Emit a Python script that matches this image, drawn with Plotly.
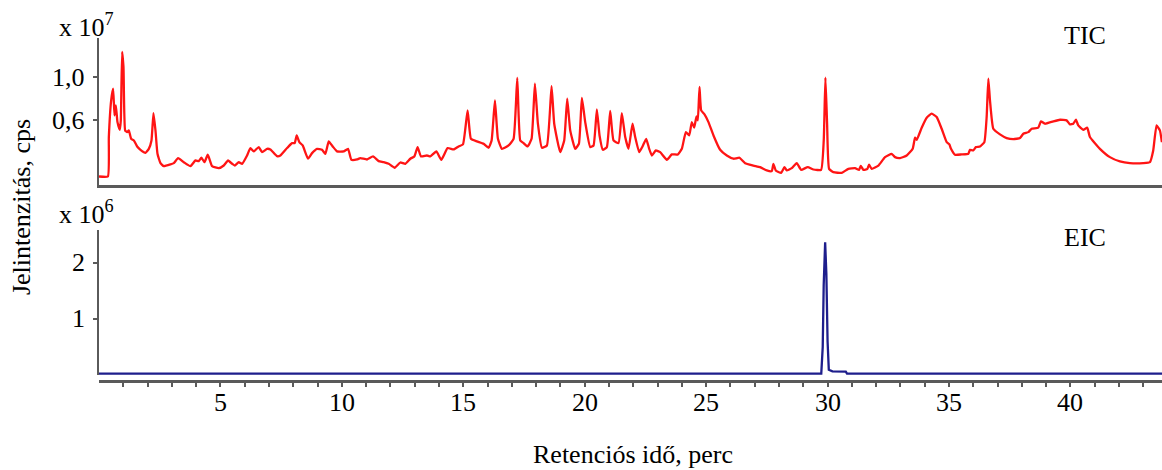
import plotly.graph_objects as go

# TIC chromatogram (retention time in min, intensity in units of 1e7 cps)
tic_t = [0.0, 0.364, 0.405, 0.501, 0.583, 0.638, 0.693, 0.761, 0.857, 0.898, 0.953, 1.008,
         1.077, 1.159, 1.228, 1.324, 1.434, 1.571, 1.708, 1.914, 2.051, 2.161, 2.243, 2.325,
         2.408, 2.531, 2.668, 2.942, 3.080, 3.258, 3.491, 3.766, 3.971, 4.108, 4.218, 4.342,
         4.479, 4.657, 4.932, 5.137, 5.315, 5.480, 5.590, 5.755, 5.892, 6.097, 6.234, 6.372,
         6.577, 6.715, 6.920, 7.058, 7.332, 7.469, 7.744, 7.949, 8.059, 8.141, 8.251, 8.388,
         8.608, 8.772, 8.978, 9.184, 9.321, 9.458, 9.623, 9.801, 10.076, 10.254, 10.391, 10.624,
         10.761, 11.035, 11.282, 11.515, 11.721, 11.927, 12.174, 12.407, 12.613, 12.819, 12.983,
         13.120, 13.258, 13.504, 13.642, 13.889, 14.094, 14.355, 14.602, 14.808, 14.986, 15.178,
         15.315, 15.562, 15.837, 16.042, 16.166, 16.303, 16.426, 16.591, 16.865, 17.071, 17.222,
         17.345, 17.482, 17.647, 17.812, 17.949, 18.072, 18.237, 18.443, 18.635, 18.744, 18.991,
         19.156, 19.279, 19.403, 19.609, 19.760, 19.883, 20.020, 20.226, 20.363, 20.500, 20.610,
         20.747, 20.912, 21.049, 21.186, 21.392, 21.529, 21.667, 21.804, 21.969, 22.078, 22.243,
         22.380, 22.531, 22.655, 22.764, 22.929, 23.107, 23.382, 23.587, 23.834, 23.999, 24.164,
         24.301, 24.410, 24.507, 24.602, 24.657, 24.726, 24.795, 24.932, 25.096, 25.302, 25.576,
         25.851, 26.125, 26.372, 26.605, 26.948, 27.223, 27.497, 27.703, 27.771, 27.867, 28.087,
         28.224, 28.320, 28.526, 28.731, 28.910, 29.184, 29.417, 29.733, 29.842, 29.911, 29.980,
         30.062, 30.240, 30.583, 30.857, 31.132, 31.297, 31.365, 31.475, 31.640, 31.708, 31.818,
         32.092, 32.366, 32.641, 32.778, 32.984, 33.258, 33.505, 33.601, 33.669, 33.875, 34.081,
         34.287, 34.492, 34.698, 34.904, 35.014, 35.082, 35.247, 35.521, 35.796, 35.864, 36.001,
         36.111, 36.276, 36.454, 36.550, 36.619, 36.687, 36.824, 37.099, 37.373, 37.648, 37.922,
         38.059, 38.265, 38.402, 38.676, 38.786, 38.951, 39.294, 39.568, 39.842, 39.979, 40.117,
         40.226, 40.322, 40.528, 40.693, 40.802, 41.214, 41.625, 42.037, 42.448, 42.997, 43.272,
         43.409, 43.546, 43.683, 43.765]
tic_v = [0.079, 0.079, 0.445, 0.786, 0.894, 0.646, 0.740, 0.584, 0.513, 0.600, 1.236, 1.096,
         0.507, 0.491, 0.507, 0.429, 0.414, 0.358, 0.327, 0.299, 0.336, 0.414, 0.668, 0.507,
         0.290, 0.203, 0.175, 0.191, 0.203, 0.250, 0.212, 0.175, 0.228, 0.222, 0.253, 0.212,
         0.281, 0.175, 0.157, 0.181, 0.228, 0.197, 0.181, 0.212, 0.197, 0.274, 0.343, 0.312,
         0.352, 0.305, 0.336, 0.330, 0.268, 0.274, 0.343, 0.389, 0.389, 0.460, 0.398, 0.367,
         0.244, 0.296, 0.336, 0.327, 0.290, 0.405, 0.358, 0.312, 0.312, 0.336, 0.234, 0.237,
         0.250, 0.237, 0.265, 0.222, 0.212, 0.197, 0.160, 0.209, 0.197, 0.244, 0.265,
         0.352, 0.265, 0.274, 0.265, 0.312, 0.234, 0.343, 0.330, 0.358, 0.377, 0.693,
         0.429, 0.405, 0.383, 0.346, 0.414, 0.786, 0.429, 0.336, 0.367, 0.429, 0.994,
         0.414, 0.389, 0.358, 0.429, 0.941, 0.569, 0.346, 0.367, 0.919, 0.569, 0.305,
         0.414, 0.802, 0.507, 0.336, 0.383, 0.808, 0.584, 0.352, 0.367, 0.702, 0.460,
         0.327, 0.352, 0.687, 0.414, 0.389, 0.668, 0.445, 0.336, 0.569, 0.445, 0.305,
         0.358, 0.429, 0.336, 0.274, 0.321, 0.305, 0.234, 0.284, 0.284, 0.336, 0.491,
         0.460, 0.584, 0.532, 0.637, 0.600, 0.910, 0.693, 0.656, 0.584, 0.460, 0.327,
         0.274, 0.244, 0.253, 0.203, 0.181, 0.166, 0.135, 0.129, 0.197, 0.135, 0.113,
         0.166, 0.135, 0.157, 0.203, 0.141, 0.166, 0.144, 0.141, 0.414, 0.997, 0.569,
         0.150, 0.119, 0.113, 0.150, 0.157, 0.141, 0.178, 0.141, 0.150, 0.188, 0.150,
         0.181, 0.259, 0.290, 0.259, 0.250, 0.274, 0.336, 0.439, 0.420, 0.532, 0.625,
         0.662, 0.631, 0.522, 0.398, 0.377, 0.336, 0.281, 0.284, 0.290, 0.327, 0.321,
         0.352, 0.358, 0.398, 0.631, 0.988, 0.786, 0.522, 0.470, 0.436, 0.426, 0.436,
         0.476, 0.491, 0.522, 0.532, 0.591, 0.569, 0.591, 0.606, 0.600, 0.563, 0.569,
         0.606, 0.553, 0.513, 0.532, 0.445, 0.336, 0.259, 0.219, 0.203, 0.203, 0.212,
         0.321, 0.553, 0.507, 0.398]

# EIC chromatogram (intensity in units of 1e6 cps)
eic_t = [0.0, 29.74, 29.80, 29.84, 29.90, 29.95, 30.00, 30.05, 30.20, 30.75, 30.80, 43.77]
eic_v = [0.03, 0.03, 0.50, 1.60, 2.36, 1.80, 0.60, 0.10, 0.07, 0.065, 0.03, 0.03]

top_ticks = [0.6, 1.0]
top_ticktext = ["0,6", "1,0"]
bot_ticks = [1, 2]
bot_ticktext = ["1", "2"]
x_minor_ticks = list(range(1, 44))
x_label_ticks = [5, 10, 15, 20, 25, 30, 35, 40]
x_label_text = [str(v) for v in x_label_ticks]

FONT = "Liberation Serif"
AX = "#5a5a5a"
FS = 26
X_RANGE = [0, 43.77]

fig = go.Figure()
fig.add_trace(go.Scatter(x=tic_t, y=tic_v, xaxis="x", yaxis="y", mode="lines",
                         line=dict(color="#ff1414", width=2.3, shape="spline", smoothing=0.4),
                         hoverinfo="skip"))
fig.add_trace(go.Scatter(x=eic_t, y=eic_v, xaxis="x2", yaxis="y2", mode="lines",
                         line=dict(color="#1e1e8c", width=2.3), hoverinfo="skip"))

tick_font = dict(family=FONT, size=FS, color="black")
fig.update_layout(
    width=1162, height=470,
    margin=dict(l=99, r=0, t=38, b=89),
    paper_bgcolor="white", plot_bgcolor="white",
    showlegend=False,
    font=dict(family=FONT, size=FS, color="black"),
    xaxis=dict(domain=[0, 1], anchor="y", range=X_RANGE, showline=True,
               linecolor=AX, linewidth=3, showticklabels=False, ticks="",
               showgrid=False, zeroline=False),
    yaxis=dict(domain=[0.5714, 1], anchor="x", range=[0, 1.365], showline=True,
               linecolor=AX, linewidth=1.5, ticks="outside", ticklen=4, tickwidth=1.5,
               tickcolor=AX, tickvals=top_ticks, showticklabels=False,
               showgrid=False, zeroline=False),
    xaxis2=dict(domain=[0, 1], anchor="free", position=0, range=X_RANGE,
                showline=True, linecolor=AX, linewidth=3, ticks="outside", ticklen=4,
                tickwidth=1.5, tickcolor=AX, tickvals=x_minor_ticks,
                showticklabels=False, showgrid=False, zeroline=False),
    yaxis2=dict(domain=[0.0166, 0.4402], anchor="x2", range=[0, 2.58], showline=True,
                linecolor=AX, linewidth=1.5, ticks="outside", ticklen=4, tickwidth=1.5,
                tickcolor=AX, tickvals=bot_ticks, showticklabels=False,
                showgrid=False, zeroline=False),
)

ann_font = dict(family=FONT, size=FS, color="black")
# tick labels, placed through the axes' own scales
for v, s in zip(top_ticks, top_ticktext):
    fig.add_annotation(text=s, xref="paper", yref="y", x=-0.0122, y=v, xanchor="right",
                       yanchor="middle", showarrow=False, font=ann_font, borderpad=0)
for v, s in zip(bot_ticks, bot_ticktext):
    fig.add_annotation(text=s, xref="paper", yref="y2", x=-0.0122, y=v, xanchor="right",
                       yanchor="middle", showarrow=False, font=ann_font, borderpad=0)
for v, s in zip(x_label_ticks, x_label_text):
    fig.add_annotation(text=s, xref="x2", yref="paper", x=v, y=-0.0641, xanchor="center",
                       yanchor="middle", showarrow=False, font=ann_font, borderpad=0)

fig.add_annotation(text="x 10<sup>7</sup>", xref="paper", yref="paper", x=-0.0395, y=1.035,
                   xanchor="left", yanchor="middle", showarrow=False, font=ann_font)
fig.add_annotation(text="x 10<sup>6</sup>", xref="paper", yref="paper", x=-0.0395, y=0.4898,
                   xanchor="left", yanchor="middle", showarrow=False, font=ann_font)
fig.add_annotation(text="TIC", xref="paper", yref="paper", x=0.9276, y=1.0087,
                   xanchor="center", yanchor="middle", showarrow=False, font=ann_font)
fig.add_annotation(text="EIC", xref="paper", yref="paper", x=0.9276, y=0.4198,
                   xanchor="center", yanchor="middle", showarrow=False, font=ann_font)
fig.add_annotation(text="Jelintenzitás, cps", xref="paper", yref="paper", x=-0.0724, y=0.5073,
                   xanchor="center", yanchor="middle", textangle=-90, showarrow=False,
                   font=ann_font)
fig.add_annotation(text="Retenciós idő, perc", xref="paper", yref="paper", x=0.5024, y=-0.2595,
                   xanchor="center", yanchor="bottom", borderpad=0, showarrow=False,
                   font=ann_font)

fig.write_html("out.html")
